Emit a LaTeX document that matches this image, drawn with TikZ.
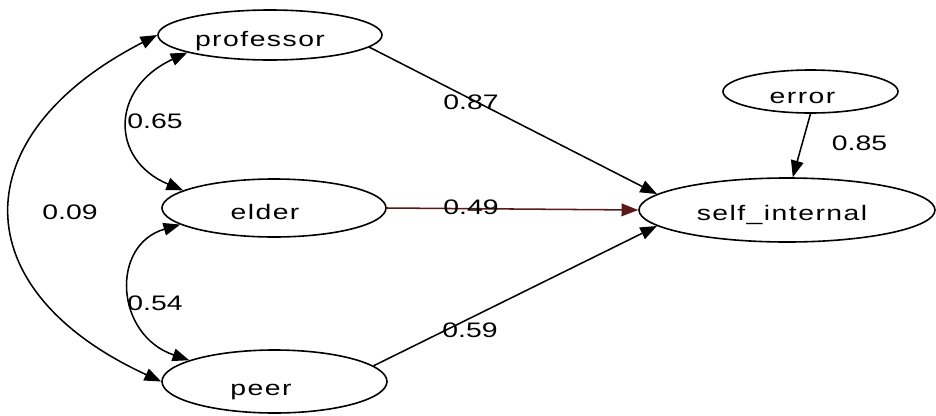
\documentclass[tikz,border=0pt]{standalone}
\usepackage{fontspec}
\setmainfont{Liberation Sans}
\newfontfamily\wordfont[FakeStretch=1.35,LetterSpace=7]{Liberation Sans}
\newfontfamily\numfont[FakeStretch=1.35]{Liberation Sans}
\usetikzlibrary{shapes.geometric,arrows.meta}
\definecolor{darkred}{RGB}{90,25,25}
\tikzset{
  var/.style={ellipse,draw,line width=1.2pt,inner sep=0pt},
  vartext/.style={font=\wordfont\fontsize{15.75pt}{18pt}\selectfont,inner sep=0pt,anchor=base},
  coef/.style={font=\numfont\fontsize{15.75pt}{18pt}\selectfont,inner sep=0pt},
  tip/.tip={Triangle[length=12.5pt,width=9.5pt]},
  regarrow/.style={line width=1.15pt,-tip},
  covarrow/.style={line width=1.15pt,tip-tip}
}
\begin{document}
\begin{tikzpicture}[x=0.75pt,y=-0.75pt]
\useasboundingbox (0,0) rectangle (936,415);
% variables
\node[var,minimum width=168pt,minimum height=37.5pt] (prof) at (270,35) {};
\node[var,minimum width=168pt,minimum height=43.5pt] (elder) at (274,208) {};
\node[var,minimum width=168.75pt,minimum height=47.25pt] (peer) at (274.5,381.5) {};
\node[var,minimum width=222pt,minimum height=48pt] (self) at (787,210) {};
\node[var,minimum width=131.25pt,minimum height=32.25pt] (error) at (810.5,91.5) {};
% variable names
\node[vartext] (tprof) at (260,46.7) {professor};
\node[vartext] (telder) at (265,219) {elder};
\node[vartext] (tpeer) at (261,395) {peer};
\node[vartext] (tself) at (782,220) {self\_internal};
\node[vartext] (terror) at (802.5,103) {error};
% regression paths
\draw[regarrow] (prof.-7) -- (self.173);
\draw[regarrow,darkred] (elder.0) -- (self.180);
\draw[regarrow] (peer.9) -- (self.187);
\draw[regarrow] (error.south) -- (self.80);
% covariances
\draw[covarrow] (prof.192) .. controls (110,88) and (110,160) .. (elder.169);
\draw[covarrow] (elder.190) .. controls (110,245) and (115,335) .. (peer.166);
\draw[covarrow] (prof.west) .. controls (-38,135) and (-38,290) .. (peer.west);
% coefficients
\node[coef] (c1) at (155,121) {0.65};
\node[coef] (c2) at (155,303) {0.54};
\node[coef] (c3) at (70,212) {0.09};
\node[coef] (c4) at (471,102) {0.87};
\node[coef] (c5) at (471,207) {0.49};
\node[coef] (c6) at (470,330) {0.59};
\node[coef] (c7) at (859.5,143.5) {0.85};
\end{tikzpicture}
\end{document}
